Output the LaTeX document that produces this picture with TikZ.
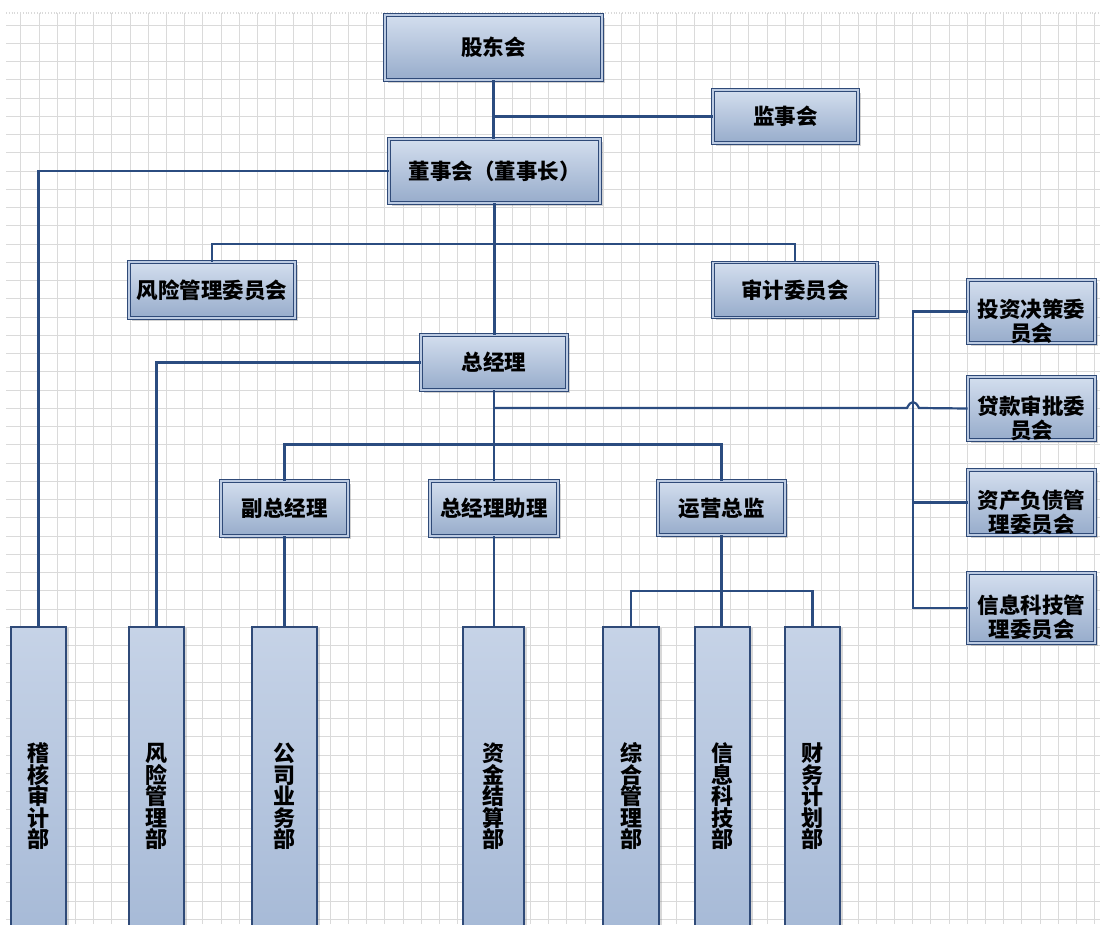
\documentclass[tikz,border=0pt]{standalone}
\usepackage{fontspec}
\setmainfont{Noto Sans CJK SC}
\usetikzlibrary{shadows}
\definecolor{boxline}{HTML}{2F4A78}
\definecolor{boxinner}{HTML}{BCCBE2}
\definecolor{boxtop}{HTML}{D3DEEE}
\definecolor{boxbot}{HTML}{97ACCB}
\definecolor{deptop}{HTML}{C6D3E7}
\definecolor{depbot}{HTML}{A3B7D5}
\definecolor{conn}{HTML}{2B4C80}
\definecolor{gridc}{HTML}{DADADA}
\tikzset{
  topbox/.style={draw=boxline, line width=0.9pt, double=boxinner, double distance=1.6pt,
    top color=boxtop, bottom color=boxbot, inner sep=0pt, align=center,
    drop shadow={shadow xshift=2.5pt, shadow yshift=-2.5pt, opacity=0.35},
    font=\bfseries\fontsize{21.5}{24}\selectfont},
  combox/.style={topbox, minimum width=127pt},
  deptbox/.style={draw=boxline, line width=1.1pt, top color=deptop, bottom color=depbot,
    inner sep=0pt, align=center, minimum height=339pt,
    drop shadow={shadow xshift=2.5pt, shadow yshift=-1pt, opacity=0.3},
    font=\bfseries\fontsize{22}{21.5}\selectfont},
  txt/.style={align=center, inner sep=0pt, font=\bfseries\fontsize{21.5}{24}\selectfont},
  link/.style={draw=conn, line width=2.2pt},
  gridline/.style={draw=gridc, line width=0.8pt}
}
\begin{document}
\begin{tikzpicture}[x=1pt, y=-1pt]
\useasboundingbox (0,0) rectangle (1100,924);
\fill[white] (0,0) rectangle (1100,924);
% grid
\foreach \k in {0,...,59} {\draw[gridline] (20.7+18.2*\k,13) -- (20.7+18.2*\k,924);}
\foreach \k in {0,...,49} {\draw[gridline] (6,25+18.25*\k) -- (1100,25+18.25*\k);}
\draw[gridline, dotted, line width=1.2pt] (6,13) -- (1100,13);

% top boxes
\node[topbox, minimum width=217pt, minimum height=65pt] (gd) at (493.5,47.5) {股东会};
\node[topbox, minimum width=145pt, minimum height=53pt] (js) at (785.5,116.5) {监事会};
\node[topbox, minimum width=211pt, minimum height=64pt] (dsh) at (494.5,171) {董事会（董事长）};
\node[topbox, minimum width=166pt, minimum height=56pt] (fxw) at (212,290) {风险管理委员会};
\node[topbox, minimum width=164pt, minimum height=55pt] (sjw) at (795,290) {审计委员会};
\node[topbox, minimum width=146pt, minimum height=55pt] (zjl) at (494,362.5) {总经理};
\node[topbox, minimum width=127pt, minimum height=55pt] (fzjl) at (284.5,508.5) {副总经理};
\node[topbox, minimum width=128pt, minimum height=55pt] (zjlzl) at (494,508.5) {总经理助理};
\node[topbox, minimum width=127pt, minimum height=54pt] (yyzj) at (721.5,508) {运营总监};

% committees on the right
\node[combox, minimum height=63pt] (tz) at (1031.5,311.5) {};
\node[txt] (tzt) at (1031.5,321) {投资决策委\\员会};
\node[combox, minimum height=63pt] (dk) at (1031.5,408.5) {};
\node[txt] (dkt) at (1031.5,418) {贷款审批委\\员会};
\node[combox, minimum height=65pt] (zc) at (1031.5,502.5) {};
\node[txt] (zct) at (1031.5,512) {资产负债管\\理委员会};
\node[combox, minimum height=70pt] (xk) at (1031.5,608) {};
\node[txt] (xkt) at (1031.5,617) {信息科技管\\理委员会};

% departments (bottom)
\node[deptbox, minimum width=55pt] (jh) at (38.5,796.5) {稽\\核\\审\\计\\部};
\node[deptbox, minimum width=55pt] (fxb) at (156.5,796.5) {风\\险\\管\\理\\部};
\node[deptbox, minimum width=65pt] (gs) at (284.5,796.5) {公\\司\\业\\务\\部};
\node[deptbox, minimum width=61pt] (zj) at (493.5,796.5) {资\\金\\结\\算\\部};
\node[deptbox, minimum width=56pt] (zh) at (631,796.5) {综\\合\\管\\理\\部};
\node[deptbox, minimum width=55pt] (xxkj) at (722.5,796.5) {信\\息\\科\\技\\部};
\node[deptbox, minimum width=55pt] (cw) at (812.5,796.5) {财\\务\\计\\划\\部};

% helper coordinates
\coordinate (bus) at (913,0);
\coordinate (f1) at (494,244);
\coordinate (f2) at (494,444.5);
\coordinate (f3) at (722,591);
\coordinate (h0) at (494,408);
\coordinate (ha) at (907,408);
\coordinate (hb) at (919,408);

% connectors
\draw[link] (gd.south) -- (gd.south |- dsh.north);
\draw[link] (js.west) -- (js.west -| gd.south);
\draw[link] (dsh.west) -| (jh.north);
\draw[link] (dsh.south) -- (dsh.south |- zjl.north);
\draw[link] (fxw.north) |- (f1) -| (sjw.north);
\draw[link] (zjl.west) -| (fxb.north);
\draw[link] (zjl.south) -- (zjl.south |- zjlzl.north);
\draw[link] (fzjl.north) |- (f2) -| (yyzj.north);
\draw[link] (h0) -- (ha) .. controls (911,400) and (915,400) .. (hb) -- (dk.west);
\draw[link] (tz.west) -| (bus |- xk.west) -- (xk.west);
\draw[link] (zc.west) -- (zc.west -| bus);
\draw[link] (fzjl.south) -- (fzjl.south |- gs.north);
\draw[link] (zjlzl.south) -- (zjlzl.south |- zj.north);
\draw[link] (yyzj.south) -- (yyzj.south |- xxkj.north);
\draw[link] (zh.north) |- (f3) -| (cw.north);
\end{tikzpicture}
\end{document}
